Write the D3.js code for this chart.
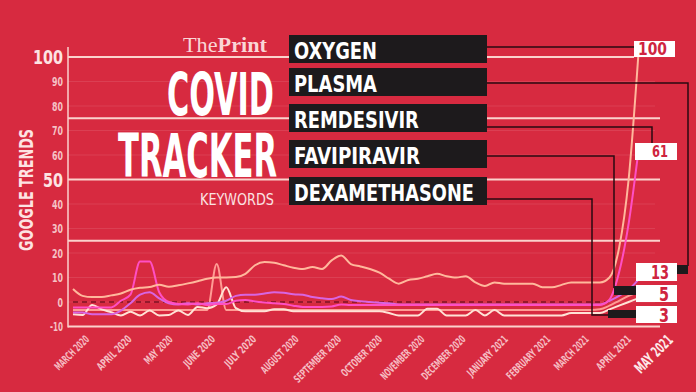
<!DOCTYPE html>
<html><head><meta charset="utf-8">
<script src="https://cdn.jsdelivr.net/npm/d3@7"></script>
<style>
html,body{margin:0;padding:0;background:#d72a40;}
svg{display:block;}
</style></head><body>
<svg id="c" width="696" height="392"></svg>
<script>
// ---------------- DATA ----------------
const keywords = ["OXYGEN", "PLASMA", "REMDESIVIR", "FAVIPIRAVIR", "DEXAMETHASONE"];
const endValues = [100, 13, 61, 5, 3];
const monthLabels = ["MARCH 2020","APRIL 2020","MAY 2020","JUNE 2020","JULY 2020","AUGUST 2020",
  "SEPTEMBER 2020","OCTOBER 2020","NOVEMBER 2020","DECEMBER 2020","JANUARY 2021","FEBRUARY 2021",
  "MARCH 2021","APRIL 2021","MAY 2021"];
const yTicks = [100, 90, 80, 70, 60, 50, 40, 30, 20, 10, 0, -10];
const majorTicks = [100, 50];
const bandLines = [100, 75, 50, 25, -10];

// weekly Google Trends values (week 0 = 1 March 2020)
const oxygen = [5.3,2.5,2,2,2.7,3.5,5,5.8,6.1,7,6.2,6.8,7.6,8.5,9.5,10,10,10.2,11.5,15,
  16.3,16,15,14,13.5,14.3,13.5,17,19,15.5,14.5,13.5,12,9.5,7.5,9,9.5,10.5,11.5,10.5,
  10,10.5,8,6.5,8,7.5,7.5,7.5,7.5,6,6,7,8,8,8,8,10,22,50,100];
const remdesivir = [-2.2,-2.2,-2.2,-2.2,-2.2,0.5,3,16.5,16.5,4,0,-0.8,-1,-0.5,-1.2,-0.8,-0.8,0.5,0.8,0.2,
  -0.2,-0.5,-0.8,-1.5,-2,-2,-2,-1.8,-1,-1.2,-1.2,-1.2,-1.2,-1.2,-1.2,-1.2,-1.2,-1.2,-1.2,-1.2,
  -1.2,-1.2,-1.2,-1.2,-1.2,-1.2,-1.2,-1.2,-1.2,-1.2,-1.2,-1.2,-1.2,-1.2,-1.2,-1.2,1,12,32,61];
const plasma = [-4.3,-4.3,-5,-5,-5,-3.5,-0.5,3,4,1.5,-0.5,-1,-0.5,-1,-0.5,-0.3,0.5,2.5,3,3,
  3.5,4,3.8,3.2,3,2,1.5,1.2,2.2,0.8,0.3,0,-0.3,-0.5,-1,-1,-1,-1,-1,-1,
  -1,-1,-1,-1,-1,-1,-1,-1,-1,-1,-1,-1,-1,-1,-1,-1,0.5,2.5,5,9];
const favipiravir = [-3.3,-3.3,-3.3,-3.3,-3.3,-3.3,-3.3,-3.3,-3.3,-3.3,-3.3,-3.3,-3.3,-3.3,-3.3,15.5,-3.3,-3.3,-3.3,-3.3,
  -3.3,-3.3,-3.3,-3.3,-3.3,-3.3,-3.3,-3.3,-3.3,-3.3,-3.3,-3.3,-3.3,-3.3,-3.3,-3.3,-3.3,-3.3,-3.3,-3.3,
  -3.3,-3.3,-3.3,-3.3,-3.3,-3.3,-3.3,-3.3,-3.3,-3.3,-3.3,-3.3,-3.3,-3.3,-3.3,-3,-1.5,0.5,2.5,4];
const dexamethasone = [-5,-5.3,-1.2,-3,-4.2,-5.5,-4,-5.5,-3.5,-5.5,-5.3,-3.5,-5.3,-2,-2.5,-1,6,-2.5,-3.8,-3.8,
  -3.8,-3,-3,-3.8,-3.8,-3.8,-3.8,-3.8,-3.8,-3.8,-3.8,-3.8,-3.8,-4.5,-5.5,-5.5,-5.5,-2.8,-2.8,-5.5,
  -5.5,-5.5,-3.3,-5.5,-3.3,-5.5,-5.5,-5.5,-5.5,-5.5,-5.5,-5.5,-4.5,-4.5,-4.5,-4.5,-3,-1.5,0,1.5];

// ---------------- SETUP ----------------
const COND = "'Liberation Sans Narrow','DejaVu Sans Condensed','Roboto Condensed','Liberation Sans',sans-serif";
const BG = "#d72a40";
const svg = d3.select("#c");
svg.append("rect").attr("width", 696).attr("height", 392).attr("fill", BG);

const start = new Date(2020, 2, 1);
const x = d3.scaleTime().domain([start, new Date(2021, 4, 1)]).range([73, 656]);
const y = d3.scaleLinear().domain([-10, 100]).range([326.5, 57]);
const weeks = d3.range(oxygen.length).map(i => d3.timeDay.offset(start, 7 * i));
const months = d3.timeMonth.range(start, new Date(2021, 4, 2));

// helper: draw text squeezed horizontally to a given width (keeps bbox honest)
function fitText(parent, str, o) {
  const t = parent.append("text").text(str)
    .attr("font-family", o.family || COND)
    .attr("font-weight", o.weight || "bold")
    .attr("font-size", o.size)
    .attr("fill", o.fill)
    .attr("text-anchor", o.anchor || "start");
  const w = t.node().getComputedTextLength();
  const s = o.width / w;
  t.attr("transform", `translate(${o.x},${o.y})${o.rotate ? ` rotate(${o.rotate})` : ""} scale(${s},1)`);
  return t;
}

// faint gridlines
svg.append("g").selectAll("line").data(d3.range(-10, 101, 10)).join("line")
  .attr("x1", 68).attr("x2", 655).attr("y1", d => y(d)).attr("y2", d => y(d))
  .attr("stroke", "#ffffff").attr("stroke-opacity", 0.1).attr("stroke-width", 1);

// thick pale band lines
svg.append("g").selectAll("line").data(bandLines).join("line")
  .attr("x1", 68).attr("x2", d => d === 100 ? 634 : 660)
  .attr("y1", d => y(d)).attr("y2", d => y(d))
  .attr("stroke", "#fbd2cc").attr("stroke-width", 2);

// dashed zero line
svg.append("line").attr("x1", 73).attr("x2", 610).attr("y1", y(0)).attr("y2", y(0))
  .attr("stroke", "#7d1022").attr("stroke-width", 1.3).attr("stroke-dasharray", "5,4");

// y axis line
svg.append("line").attr("x1", 68).attr("x2", 68).attr("y1", 47).attr("y2", y(-10) + 1)
  .attr("stroke", "#fbd2cc").attr("stroke-width", 1.5);

// y tick labels
const yg = svg.append("g");
yTicks.forEach(v => {
  const major = majorTicks.includes(v);
  const str = String(v);
  fitText(yg, str, {
    x: 63, y: y(v) + (major ? 7 : 4.5), anchor: "end",
    size: major ? 19 : 12,
    width: major ? str.length * 10 : (v === -10 ? 13 : str.length * 5.5),
    fill: major ? "#fde3e3" : "#f5c2c6"
  });
});

// y axis title
fitText(svg, "GOOGLE TRENDS", { x: 33, y: 190, rotate: -90, anchor: "middle",
  size: 20, width: 122, fill: "#fde3e3" });

// x labels
const xg = svg.append("g");
months.forEach((d, i) => {
  const last = i === months.length - 1;
  const str = monthLabels[i];
  fitText(xg, str, {
    x: x(d) + (last ? 18 : 17), y: last ? 341 : 340, rotate: -45, anchor: "end",
    size: last ? 15 : 11, width: last ? 47 : str.length * 4.4,
    fill: last ? "#fde8e8" : "#f5bcc2"
  });
});

// series lines
const series = [
  { key: "FAVIPIRAVIR", values: favipiravir, color: "#ff9c94" },
  { key: "DEXAMETHASONE", values: dexamethasone, color: "#ffe3d6" },
  { key: "PLASMA", values: plasma, color: "#d865e2" },
  { key: "REMDESIVIR", values: remdesivir, color: "#ff4fc4" },
  { key: "OXYGEN", values: oxygen, color: "#ffb89c" }
];
const line = d3.line().x((d, i) => x(weeks[i])).y(d => y(d)).curve(d3.curveMonotoneX);
svg.append("g").selectAll("path").data(series).join("path")
  .attr("d", d => line(d.values)).attr("fill", "none")
  .attr("stroke", d => d.color).attr("stroke-width", 2).attr("stroke-linejoin", "round");

// title block
const logo = svg.append("text").attr("x", 183).attr("y", 52)
  .attr("font-family", "'Liberation Serif','DejaVu Serif',serif").attr("font-size", 21)
  .attr("fill", "#fad6d6").attr("textLength", 84).attr("lengthAdjust", "spacingAndGlyphs");
logo.append("tspan").text("The");
logo.append("tspan").attr("font-weight", "bold").text("Print");

fitText(svg, "COVID", { x: 274, y: 115, anchor: "end", size: 59, width: 107, fill: "#ffffff" });
fitText(svg, "TRACKER", { x: 277, y: 177, anchor: "end", size: 60, width: 159, fill: "#ffffff" });
fitText(svg, "KEYWORDS", { x: 274, y: 205, anchor: "end", size: 16.5, width: 74,
  weight: "normal", fill: "#fbe3e3" });

// legend boxes + connectors
const boxTops = [35, 68, 104, 140, 177];
const textWidths = [83, 83, 125, 126, 180];
const connectors = [
  [[487, 47], [634, 47]],
  [[487, 83], [688, 83], [688, 266]],
  [[487, 127], [652, 127], [652, 143]],
  [[487, 156], [614, 156], [614, 288]],
  [[487, 199], [592, 199], [592, 315], [608, 315]]
];
const conn = d3.line();
svg.append("g").selectAll("path").data(connectors).join("path")
  .attr("d", d => conn(d)).attr("fill", "none")
  .attr("stroke", "#2a0a10").attr("stroke-width", 1.5);

const lg = svg.append("g");
keywords.forEach((k, i) => {
  lg.append("rect").attr("x", 289).attr("y", boxTops[i])
    .attr("width", 198).attr("height", 28).attr("fill", "#1d1a1c");
  fitText(lg, k, { x: 294, y: boxTops[i] + 24, size: 23.5, width: textWidths[i], fill: "#ffffff" });
});

// small black tabs next to lower value boxes
const tabs = [[677, 265, 11, 9], [614, 286, 22, 9], [608, 310, 28, 8]];
svg.append("g").selectAll("rect").data(tabs).join("rect")
  .attr("x", d => d[0]).attr("y", d => d[1]).attr("width", d => d[2]).attr("height", d => d[3])
  .attr("fill", "#1d1a1c");

// value boxes (order matches keywords): x, y, w, h, font size, text width
const valBoxes = [[634, 41, 41, 16, 17.5, 29], [636, 263, 41, 18, 19.5, 18], [635, 143, 42, 17, 16.5, 16],
  [636, 285, 41, 17, 19.5, 10], [636, 306, 41, 17, 19.5, 10]];
const vb = svg.append("g");
endValues.forEach((v, i) => {
  const b = valBoxes[i];
  vb.append("rect").attr("x", b[0]).attr("y", b[1]).attr("width", b[2]).attr("height", b[3])
    .attr("fill", "#ffffff");
  fitText(vb, String(v), { x: b[0] + 33, y: b[1] + b[3] / 2 + b[4] * 0.36, anchor: "end",
    size: b[4], width: b[5], fill: "#cf2440" });
});
</script>
</body></html>
